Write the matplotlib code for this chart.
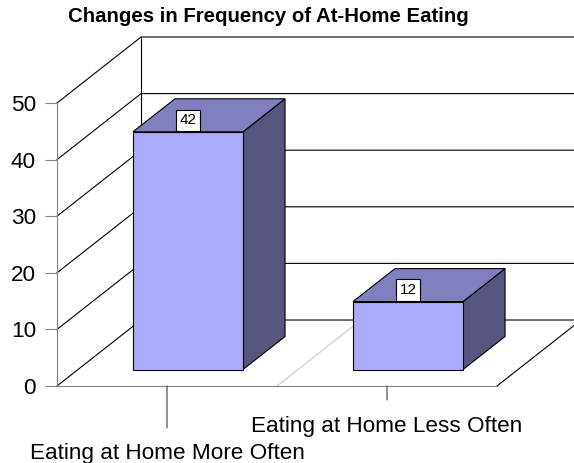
import matplotlib
matplotlib.use('Agg')
import matplotlib.pyplot as plt
from matplotlib.patches import Polygon

plt.rcParams['font.family'] = ['Liberation Sans', 'DejaVu Sans']

title = 'Changes in Frequency of At-Home Eating'
categories = ['Eating at Home More Often', 'Eating at Home Less Often']
values = [42, 12]
y_ticks = [0, 10, 20, 30, 40, 50]

# oblique depth vector, in data units (x: categories, y: value)
DX, DY = 0.382, 11.66
D0, D1 = 0.25, 0.75      # bar front / back depth
BAR_W = 0.5

front_c = '#AAAAFF'
top_c = '#8080C0'
side_c = '#555580'
axis_c = '#808080'


def p(x, y, d=0.0):
    return (x + d * DX, y + d * DY)


fig = plt.figure(figsize=(5.74, 4.63), dpi=100)
ax = fig.add_axes([57 / 574, 77 / 463, 440 / 574, 283 / 463])
ax.set_xlim(0, len(categories))
ax.set_ylim(y_ticks[0], y_ticks[-1])
ax.patch.set_visible(False)

n = len(categories)
ymax = y_ticks[-1]

# walls and gridlines
for v in y_ticks:
    ax.plot(*zip(p(0, v), p(0, v, 1), p(n, v, 1)), color='black', lw=0.8,
            clip_on=False, zorder=1)
ax.plot(*zip(p(0, 0, 1), p(0, ymax, 1)), color='black', lw=0.8, clip_on=False, zorder=1)
ax.plot(*zip(p(n, 0), p(n, 0, 1)), color='black', lw=0.8, clip_on=False, zorder=1)
# divider on the floor between categories
for i in range(1, n):
    ax.plot(*zip(p(i, 0), p(i, 0, 1)), color='#C8C8C8', lw=0.8, clip_on=False, zorder=1)

# bars
for i, v in enumerate(values):
    x0 = i + 0.5 - BAR_W / 2
    x1 = i + 0.5 + BAR_W / 2
    front = [p(x0, 0, D0), p(x1, 0, D0), p(x1, v, D0), p(x0, v, D0)]
    top = [p(x0, v, D0), p(x1, v, D0), p(x1, v, D1), p(x0, v, D1)]
    side = [p(x1, 0, D0), p(x1, 0, D1), p(x1, v, D1), p(x1, v, D0)]
    for pts, c in ((side, side_c), (top, top_c), (front, front_c)):
        ax.add_patch(Polygon(pts, closed=True, fc=c, ec='black', lw=0.8,
                             clip_on=False, zorder=3 + i))
    ax.annotate(str(v), xy=p(i + 0.5, v, D0), xytext=(0, 3.2),
                textcoords='offset points', ha='center', va='bottom',
                fontsize=11, zorder=10 + i,
                bbox=dict(boxstyle='square,pad=0.25', fc='white', ec='black', lw=0.8))

# category ticks and staggered labels
tick_len = [-42, -14]
label_off = [-73, -46]
for i, name in enumerate(categories):
    ax.annotate('', xy=(i + 0.5, 0), xytext=(0, tick_len[i] * 0.72),
                textcoords='offset points',
                arrowprops=dict(arrowstyle='-', color='#404040', lw=0.8,
                                shrinkA=0, shrinkB=0))
    ax.annotate(name, xy=(i + 0.5, 0), xytext=(0, label_off[i] * 0.72),
                textcoords='offset points', ha='center', va='baseline', fontsize=16.2)

# value axis
for s in ('top', 'right'):
    ax.spines[s].set_visible(False)
for s in ('left', 'bottom'):
    ax.spines[s].set_color(axis_c)
    ax.spines[s].set_linewidth(0.8)
    ax.spines[s].set_zorder(2)
ax.set_yticks(y_ticks)
ax.set_xticks([])
ax.tick_params(axis='y', length=8.6, width=0.8, color=axis_c, pad=6.5, labelsize=16.2)

fig.text(268 / 574, 1 - 17 / 463, title, ha='center', va='center',
         fontsize=14.7, fontweight='bold')

fig.savefig('out.png', dpi=100)
